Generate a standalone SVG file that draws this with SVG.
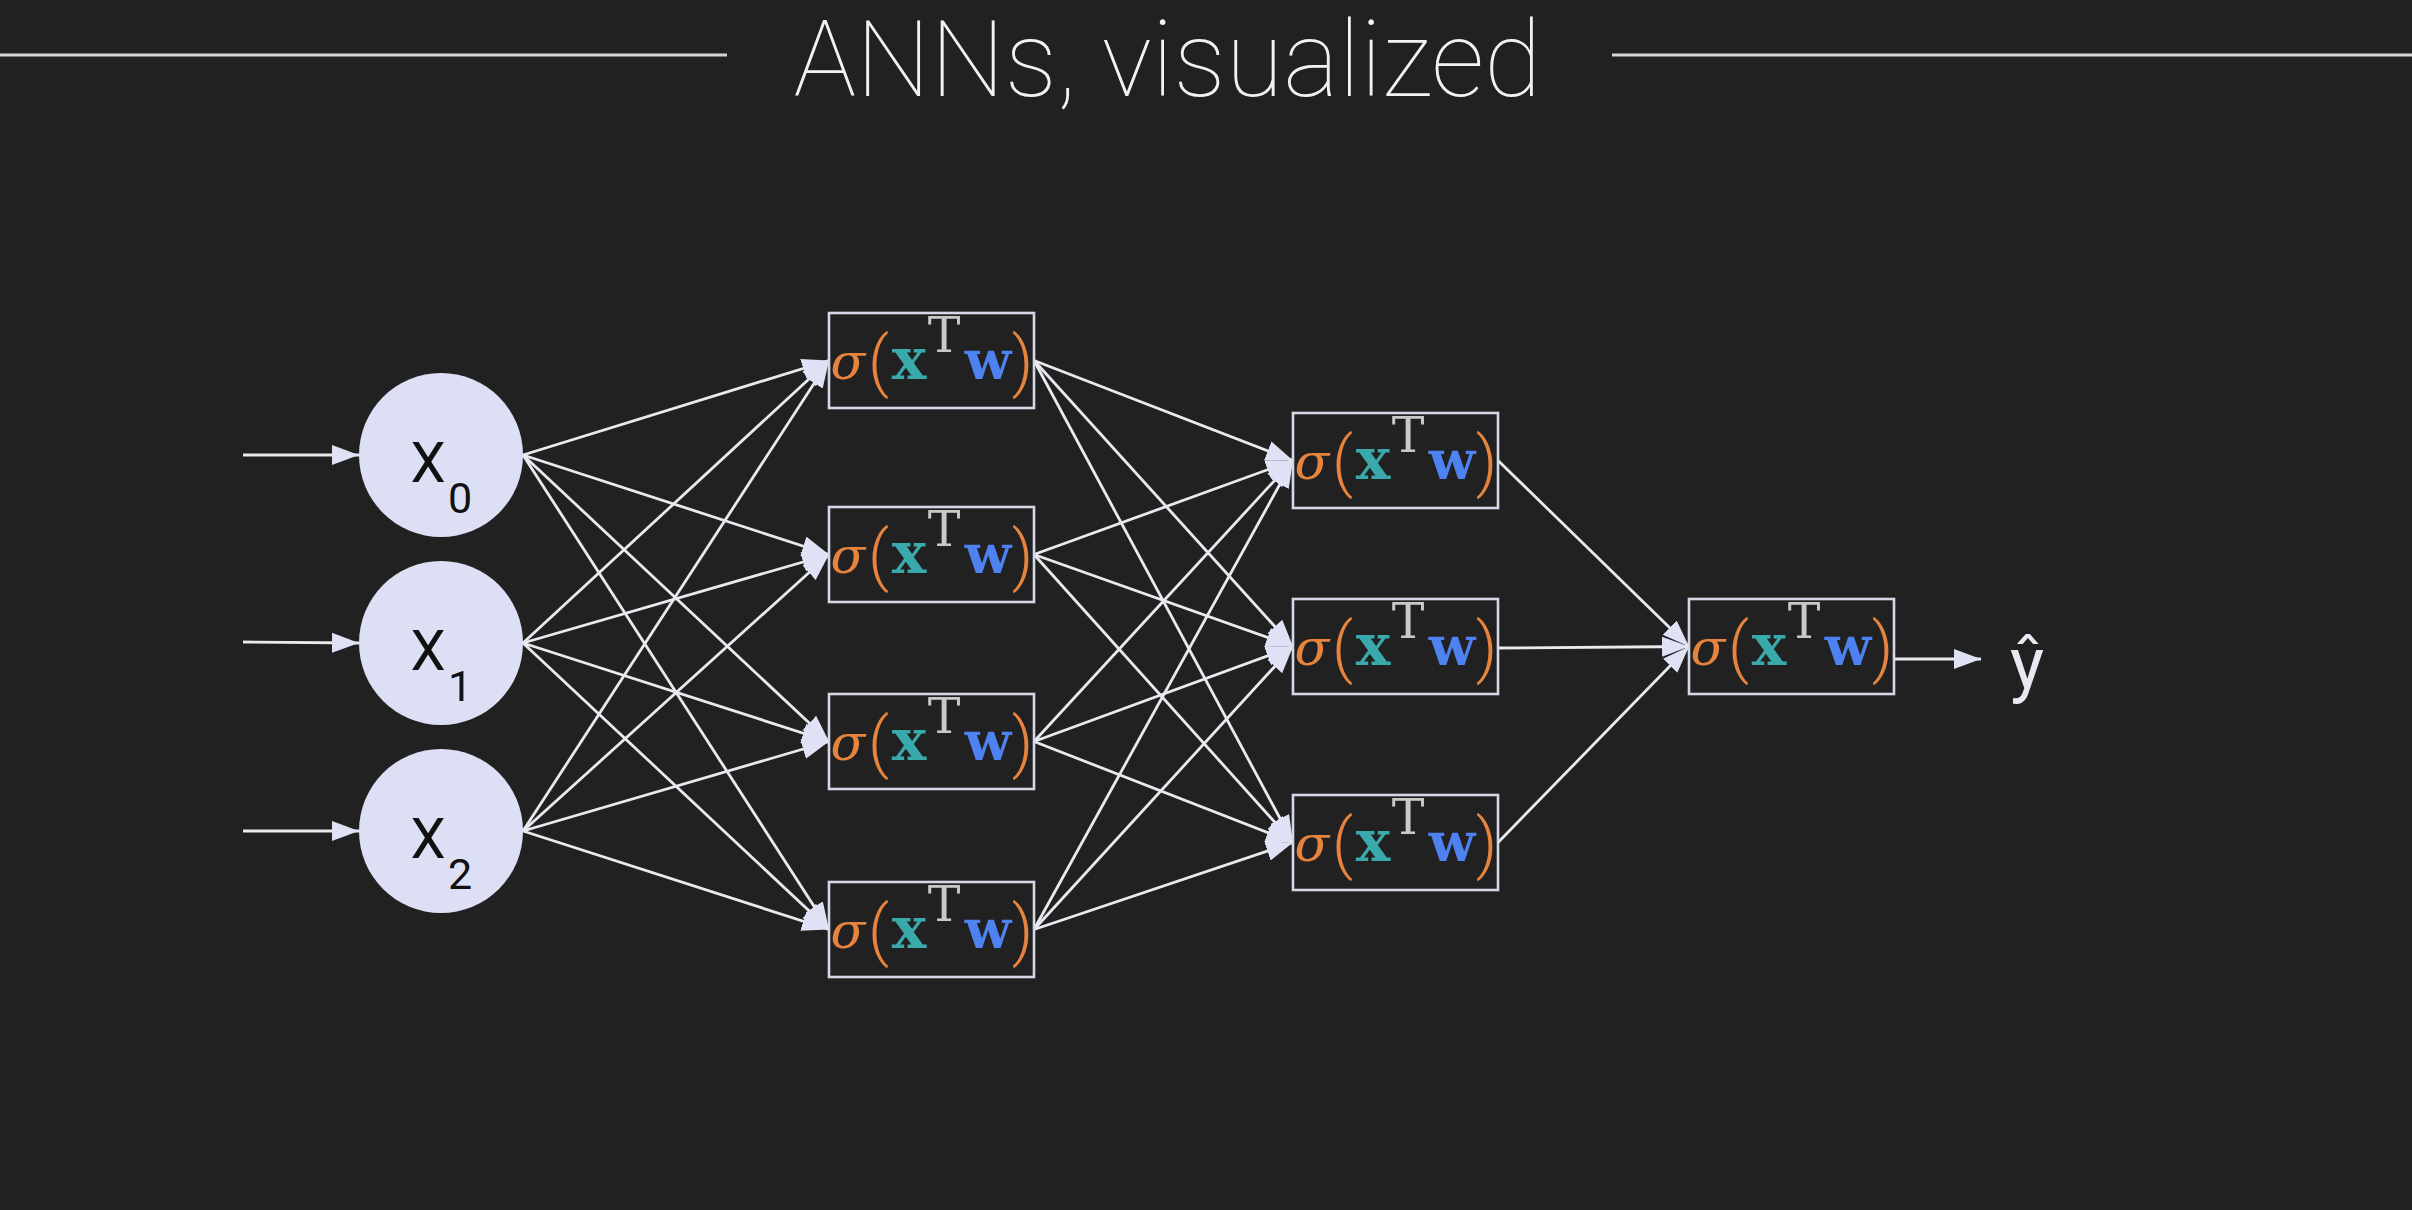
<svg xmlns="http://www.w3.org/2000/svg" width="2412" height="1210" viewBox="0 0 2412 1210">
<defs>
<style>
.bg{fill:#212121}
.rule{stroke:#d4d4d4;stroke-width:3}
.title{font-family:Roboto,"Liberation Sans",sans-serif;font-weight:100;font-size:105px;fill:#f2f2f2}
.circ{fill:#dde0f4}
.lbl{font-family:Roboto,"Liberation Sans",sans-serif;fill:#111;text-anchor:middle}
.big{font-size:56px}
.sub{font-size:43px}
.box{fill:#212121;stroke:#d6d7e6;stroke-width:2.6}
.f{text-anchor:middle}
.sig{font-family:"DejaVu Serif",serif;font-style:italic;font-size:51px;fill:#e6833e}
.par{font-family:Roboto,"Liberation Sans",sans-serif;font-weight:300;font-size:66px;fill:#e6833e}
.xv{font-family:"DejaVu Serif",serif;font-weight:bold;font-size:58px;fill:#3aa9ac}
.tt{font-family:"DejaVu Serif",serif;font-size:49px;fill:#c9c9c9}
.wv{font-family:"DejaVu Serif",serif;font-weight:bold;font-size:54px;fill:#4d82f0}
.yhat{font-family:Roboto,"Liberation Sans",sans-serif;font-size:72px;fill:#e8e9f2;text-anchor:middle}
#edges line{stroke:#e9e9f0;stroke-width:2.8;marker-end:url(#ah)}
</style>
<marker id="ah" markerUnits="userSpaceOnUse" markerWidth="28" markerHeight="21" refX="27" refY="10" orient="auto">
<path d="M0,0 L27,10 L0,20 z" fill="#dfe1f5"/>
</marker>
</defs>
<rect class="bg" x="0" y="0" width="2412" height="1210"/>
<g id="title">
<line class="rule" x1="0" y1="55" x2="727" y2="55"/>
<line class="rule" x1="1612" y1="55" x2="2412" y2="55"/>
<text class="title" x="1167.5" y="96" text-anchor="middle">ANNs, visualized</text>
</g>
<g id="edges">
<line x1="243" y1="455" x2="359" y2="455"/>
<line x1="243" y1="642" x2="359" y2="643"/>
<line x1="243" y1="831" x2="359" y2="831"/>
<line x1="523" y1="455" x2="829" y2="360.5"/>
<line x1="523" y1="455" x2="829" y2="554.5"/>
<line x1="523" y1="455" x2="829" y2="741.5"/>
<line x1="523" y1="455" x2="829" y2="929.5"/>
<line x1="523" y1="643" x2="829" y2="360.5"/>
<line x1="523" y1="643" x2="829" y2="554.5"/>
<line x1="523" y1="643" x2="829" y2="741.5"/>
<line x1="523" y1="643" x2="829" y2="929.5"/>
<line x1="523" y1="831" x2="829" y2="360.5"/>
<line x1="523" y1="831" x2="829" y2="554.5"/>
<line x1="523" y1="831" x2="829" y2="741.5"/>
<line x1="523" y1="831" x2="829" y2="929.5"/>
<line x1="1034" y1="360.5" x2="1293" y2="460.5"/>
<line x1="1034" y1="360.5" x2="1293" y2="646.5"/>
<line x1="1034" y1="360.5" x2="1293" y2="842.5"/>
<line x1="1034" y1="554.5" x2="1293" y2="460.5"/>
<line x1="1034" y1="554.5" x2="1293" y2="646.5"/>
<line x1="1034" y1="554.5" x2="1293" y2="842.5"/>
<line x1="1034" y1="741.5" x2="1293" y2="460.5"/>
<line x1="1034" y1="741.5" x2="1293" y2="646.5"/>
<line x1="1034" y1="741.5" x2="1293" y2="842.5"/>
<line x1="1034" y1="929.5" x2="1293" y2="460.5"/>
<line x1="1034" y1="929.5" x2="1293" y2="646.5"/>
<line x1="1034" y1="929.5" x2="1293" y2="842.5"/>
<line x1="1498" y1="460.5" x2="1689" y2="646.5"/>
<line x1="1498" y1="648" x2="1689" y2="646.5"/>
<line x1="1498" y1="842.5" x2="1689" y2="646.5"/>
<line x1="1894" y1="659" x2="1981" y2="659"/>
</g>
<g id="x0">
<circle class="circ" cx="441" cy="455" r="82"/>
<text class="lbl"><tspan class="big" x="428" y="482">X</tspan><tspan class="sub" x="460" y="513">0</tspan></text>
</g>
<g id="x1">
<circle class="circ" cx="441" cy="643" r="82"/>
<text class="lbl"><tspan class="big" x="428" y="670">X</tspan><tspan class="sub" x="460" y="701">1</tspan></text>
</g>
<g id="x2">
<circle class="circ" cx="441" cy="831" r="82"/>
<text class="lbl"><tspan class="big" x="428" y="858">X</tspan><tspan class="sub" x="460" y="889">2</tspan></text>
</g>
<g id="h1a">
<rect class="box" x="829" y="313" width="205" height="95"/>
<text class="f"><tspan class="sig" x="848" y="379">σ</tspan><tspan class="par" x="878.5" y="384">(</tspan><tspan class="xv" x="909" y="379">x</tspan><tspan class="tt" x="944" y="352">T</tspan><tspan class="wv" x="988" y="379">w</tspan><tspan class="par" x="1022.5" y="384">)</tspan></text>
</g>
<g id="h1b">
<rect class="box" x="829" y="507" width="205" height="95"/>
<text class="f"><tspan class="sig" x="848" y="573">σ</tspan><tspan class="par" x="878.5" y="578">(</tspan><tspan class="xv" x="909" y="573">x</tspan><tspan class="tt" x="944" y="546">T</tspan><tspan class="wv" x="988" y="573">w</tspan><tspan class="par" x="1022.5" y="578">)</tspan></text>
</g>
<g id="h1c">
<rect class="box" x="829" y="694" width="205" height="95"/>
<text class="f"><tspan class="sig" x="848" y="760">σ</tspan><tspan class="par" x="878.5" y="765">(</tspan><tspan class="xv" x="909" y="760">x</tspan><tspan class="tt" x="944" y="733">T</tspan><tspan class="wv" x="988" y="760">w</tspan><tspan class="par" x="1022.5" y="765">)</tspan></text>
</g>
<g id="h1d">
<rect class="box" x="829" y="882" width="205" height="95"/>
<text class="f"><tspan class="sig" x="848" y="948">σ</tspan><tspan class="par" x="878.5" y="953">(</tspan><tspan class="xv" x="909" y="948">x</tspan><tspan class="tt" x="944" y="921">T</tspan><tspan class="wv" x="988" y="948">w</tspan><tspan class="par" x="1022.5" y="953">)</tspan></text>
</g>
<g id="h2a">
<rect class="box" x="1293" y="413" width="205" height="95"/>
<text class="f"><tspan class="sig" x="1312" y="479">σ</tspan><tspan class="par" x="1342.5" y="484">(</tspan><tspan class="xv" x="1373" y="479">x</tspan><tspan class="tt" x="1408" y="452">T</tspan><tspan class="wv" x="1452" y="479">w</tspan><tspan class="par" x="1486.5" y="484">)</tspan></text>
</g>
<g id="h2b">
<rect class="box" x="1293" y="599" width="205" height="95"/>
<text class="f"><tspan class="sig" x="1312" y="665">σ</tspan><tspan class="par" x="1342.5" y="670">(</tspan><tspan class="xv" x="1373" y="665">x</tspan><tspan class="tt" x="1408" y="638">T</tspan><tspan class="wv" x="1452" y="665">w</tspan><tspan class="par" x="1486.5" y="670">)</tspan></text>
</g>
<g id="h2c">
<rect class="box" x="1293" y="795" width="205" height="95"/>
<text class="f"><tspan class="sig" x="1312" y="861">σ</tspan><tspan class="par" x="1342.5" y="866">(</tspan><tspan class="xv" x="1373" y="861">x</tspan><tspan class="tt" x="1408" y="834">T</tspan><tspan class="wv" x="1452" y="861">w</tspan><tspan class="par" x="1486.5" y="866">)</tspan></text>
</g>
<g id="out">
<rect class="box" x="1689" y="599" width="205" height="95"/>
<text class="f"><tspan class="sig" x="1708" y="665">σ</tspan><tspan class="par" x="1738.5" y="670">(</tspan><tspan class="xv" x="1769" y="665">x</tspan><tspan class="tt" x="1804" y="638">T</tspan><tspan class="wv" x="1848" y="665">w</tspan><tspan class="par" x="1882.5" y="670">)</tspan></text>
</g>
<g id="yhat">
<text class="yhat" x="2027" y="688">ŷ</text>
</g>
</svg>
